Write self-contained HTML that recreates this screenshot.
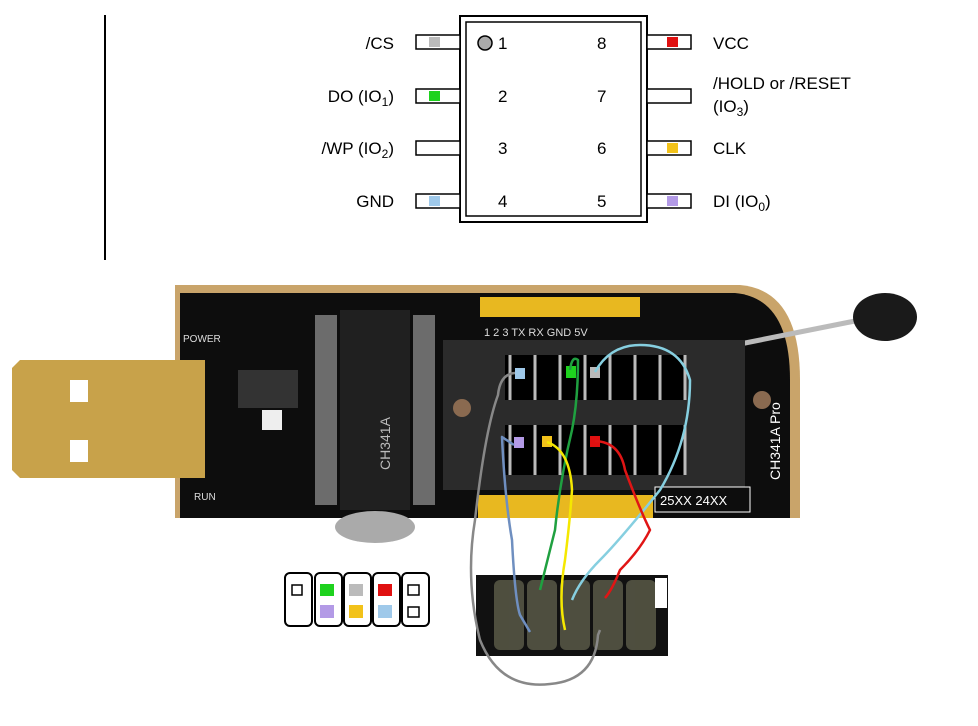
<!DOCTYPE html>
<html><head><meta charset="utf-8"><style>
body{margin:0;background:#fff;width:978px;height:726px;overflow:hidden}
svg{display:block}
text{font-family:"Liberation Sans",sans-serif}
</style></head><body>
<svg width="978" height="726" viewBox="0 0 978 726" xmlns="http://www.w3.org/2000/svg">
<line x1="105" y1="15" x2="105" y2="260" stroke="#000" stroke-width="2"/>
<!-- chip -->
<rect x="460" y="16" width="187" height="206" fill="#fff" stroke="#000" stroke-width="2"/>
<rect x="466" y="22" width="175" height="194" fill="none" stroke="#000" stroke-width="1.5"/>
<circle cx="485" cy="43" r="7" fill="#aaa" stroke="#000" stroke-width="1.5"/>
<g font-size="17" fill="#000">
<text x="498" y="49">1</text><text x="498" y="102">2</text><text x="498" y="154">3</text><text x="498" y="207">4</text>
<text x="597" y="49">8</text><text x="597" y="102">7</text><text x="597" y="154">6</text><text x="597" y="207">5</text>
</g>
<g stroke="#000" stroke-width="1.5" fill="#fff">
<rect x="416" y="35" width="44" height="14"/><rect x="416" y="89" width="44" height="14"/>
<rect x="416" y="141" width="44" height="14"/><rect x="416" y="194" width="44" height="14"/>
<rect x="647" y="35" width="44" height="14"/><rect x="647" y="89" width="44" height="14"/>
<rect x="647" y="141" width="44" height="14"/><rect x="647" y="194" width="44" height="14"/>
</g>
<rect x="429" y="37" width="11" height="10" fill="#bbb"/>
<rect x="429" y="91" width="11" height="10" fill="#1ed21e"/>
<rect x="429" y="196" width="11" height="10" fill="#9fc9ea"/>
<rect x="667" y="37" width="11" height="10" fill="#e01010"/>
<rect x="667" y="143" width="11" height="10" fill="#f2c21a"/>
<rect x="667" y="196" width="11" height="10" fill="#b39ae6"/>
<g font-size="17" fill="#000">
<text x="394" y="49" text-anchor="end">/CS</text>
<text x="394" y="102" text-anchor="end">DO (IO<tspan font-size="12" dy="4">1</tspan><tspan dy="-4">)</tspan></text>
<text x="394" y="154" text-anchor="end">/WP (IO<tspan font-size="12" dy="4">2</tspan><tspan dy="-4">)</tspan></text>
<text x="394" y="207" text-anchor="end">GND</text>
<text x="713" y="49">VCC</text>
<text x="713" y="89">/HOLD or /RESET</text>
<text x="713" y="112">(IO<tspan font-size="12" dy="4">3</tspan><tspan dy="-4">)</tspan></text>
<text x="713" y="154">CLK</text>
<text x="713" y="207">DI (IO<tspan font-size="12" dy="4">0</tspan><tspan dy="-4">)</tspan></text>
</g>
<!-- board -->
<path d="M175 285 H740 Q800 290 800 380 V518 H175 Z" fill="#c9a46a"/>
<path d="M180 293 H735 Q790 298 790 380 V518 H180 Z" fill="#0d0d0d"/>
<!-- thermometer -->
<line x1="735" y1="345" x2="870" y2="318" stroke="#bbb" stroke-width="5"/>
<ellipse cx="885" cy="317" rx="32" ry="24" fill="#1a1a1a"/>
<!-- USB -->
<path d="M20 360 H205 V478 H20 L12 470 V368 Z" fill="#c8a24a"/>
<rect x="70" y="380" width="18" height="22" fill="#fff"/><rect x="70" y="440" width="18" height="22" fill="#fff"/>
<!-- ch341 chip -->
<rect x="340" y="310" width="70" height="200" fill="#202020"/>
<g fill="#ccc"><rect x="315" y="315" width="22" height="190" opacity=".5"/><rect x="413" y="315" width="22" height="190" opacity=".5"/></g>
<text x="390" y="470" font-size="14" fill="#bbb" transform="rotate(-90 390 470)">CH341A</text>
<rect x="238" y="370" width="60" height="38" fill="#333"/>
<rect x="262" y="410" width="20" height="20" fill="#eee"/>
<ellipse cx="375" cy="527" rx="40" ry="16" fill="#aaa"/>
<g font-size="10" fill="#ddd"><text x="183" y="342">POWER</text><text x="194" y="500">RUN</text></g>
<!-- header top -->
<rect x="480" y="297" width="160" height="20" fill="#e8b820"/>
<text x="484" y="336" font-size="11" fill="#ddd">1  2  3  TX RX GND 5V</text>
<!-- socket -->
<rect x="443" y="340" width="302" height="150" fill="#2b2b2b"/>
<g fill="#000"><rect x="505" y="355" width="180" height="45"/><rect x="505" y="425" width="180" height="50"/></g>
<g stroke="#bbb" stroke-width="3">
<line x1="510" y1="355" x2="510" y2="400"/><line x1="535" y1="355" x2="535" y2="400"/><line x1="560" y1="355" x2="560" y2="400"/><line x1="585" y1="355" x2="585" y2="400"/><line x1="610" y1="355" x2="610" y2="400"/><line x1="635" y1="355" x2="635" y2="400"/><line x1="660" y1="355" x2="660" y2="400"/><line x1="685" y1="355" x2="685" y2="400"/>
<line x1="510" y1="425" x2="510" y2="475"/><line x1="535" y1="425" x2="535" y2="475"/><line x1="560" y1="425" x2="560" y2="475"/><line x1="585" y1="425" x2="585" y2="475"/><line x1="610" y1="425" x2="610" y2="475"/><line x1="635" y1="425" x2="635" y2="475"/><line x1="660" y1="425" x2="660" y2="475"/><line x1="685" y1="425" x2="685" y2="475"/>
</g>
<circle cx="462" cy="408" r="9" fill="#8a6a50"/><circle cx="762" cy="400" r="9" fill="#8a6a50"/>
<rect x="478" y="495" width="175" height="23" fill="#e8b820"/>
<rect x="655" y="487" width="95" height="25" fill="#0d0d0d" stroke="#fff"/>
<text x="660" y="505" font-size="13" fill="#fff">25XX 24XX</text>
<text x="780" y="480" font-size="14" fill="#fff" transform="rotate(-90 780 480)">CH341A Pro</text>
<!-- colored squares in socket -->
<rect x="515" y="368" width="10" height="11" fill="#9fc9ea"/>
<rect x="566" y="366" width="10" height="12" fill="#1ed21e"/>
<rect x="590" y="367" width="10" height="11" fill="#bbb"/>
<rect x="514" y="437" width="10" height="11" fill="#b39ae6"/>
<rect x="542" y="436" width="10" height="11" fill="#f2c21a"/>
<rect x="590" y="436" width="10" height="11" fill="#e01010"/>
<!-- bottom connector -->
<rect x="476" y="575" width="192" height="81" fill="#111"/>
<g fill="#554" opacity=".9"><rect x="494" y="580" width="30" height="70" rx="6"/><rect x="527" y="580" width="30" height="70" rx="6"/><rect x="560" y="580" width="30" height="70" rx="6"/><rect x="593" y="580" width="30" height="70" rx="6"/><rect x="626" y="580" width="30" height="70" rx="6"/></g>
<rect x="655" y="578" width="12" height="30" fill="#fff"/>
<!-- wires -->
<g fill="none" stroke-width="2.5" stroke-linejoin="round">
<path d="M515 373 Q500 374 498 395 Q485 430 475 520 Q465 580 480 640 Q500 690 550 684 Q595 680 598 635 L600 630" stroke="#888"/>
<path d="M514 445 L502 437 Q505 500 512 540 Q515 600 520 615 L530 632" stroke="#6f8fc0"/>
<path d="M570 370 Q572 355 578 360 Q578 400 572 430 Q560 480 555 530 Q545 570 540 590" stroke="#1fa040"/>
<path d="M547 442 Q570 450 572 490 Q570 520 565 560 Q558 600 565 630" stroke="#f5e800"/>
<path d="M595 372 Q610 345 640 345 Q680 345 690 380 Q690 440 660 490 Q620 540 600 560 Q580 580 572 600" stroke="#86cfe0"/>
<path d="M595 441 Q620 442 625 470 Q640 510 650 530 Q640 550 620 570 Q612 590 605 598" stroke="#e01515"/>
</g>
<!-- legend -->
<g stroke="#000" stroke-width="2" fill="#fff">
<rect x="285" y="573" width="27" height="53" rx="5"/><rect x="315" y="573" width="27" height="53" rx="5"/><rect x="344" y="573" width="27" height="53" rx="5"/><rect x="373" y="573" width="27" height="53" rx="5"/><rect x="402" y="573" width="27" height="53" rx="5"/>
<rect x="292" y="585" width="10" height="10" stroke-width="1.5"/><rect x="408" y="585" width="11" height="10" stroke-width="1.5"/><rect x="408" y="607" width="11" height="10" stroke-width="1.5"/>
</g>
<rect x="320" y="584" width="14" height="12" fill="#1ed21e"/>
<rect x="320" y="605" width="14" height="13" fill="#b39ae6"/>
<rect x="349" y="584" width="14" height="12" fill="#bbb"/>
<rect x="349" y="605" width="14" height="13" fill="#f2c21a"/>
<rect x="378" y="584" width="14" height="12" fill="#e01010"/>
<rect x="378" y="605" width="14" height="13" fill="#9fc9ea"/>
</svg>
</body></html>
